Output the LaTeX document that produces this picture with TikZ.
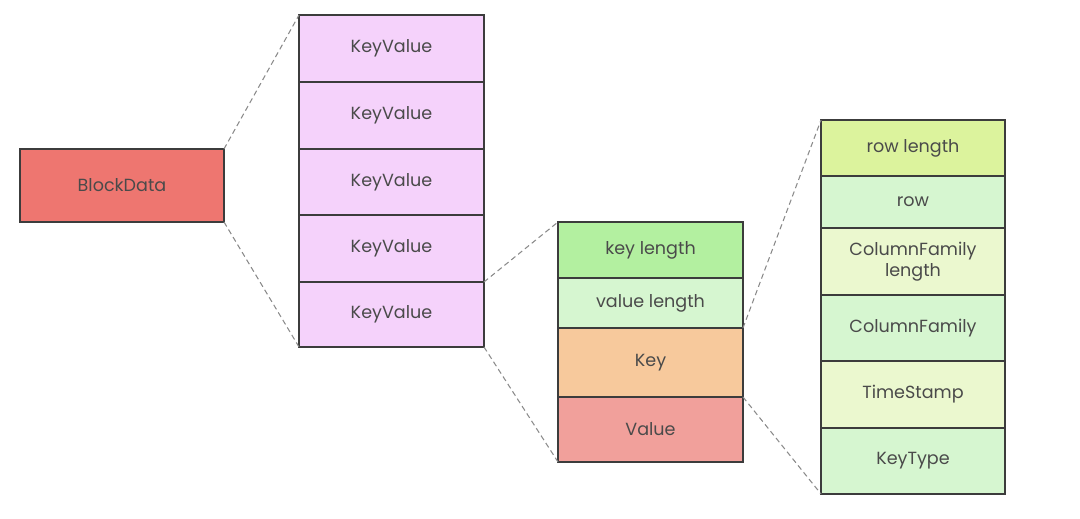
\documentclass[tikz,border=0pt]{standalone}
\usepackage{fontspec}
\setmainfont{Poppins}
\usepackage{tikz}
\usetikzlibrary{positioning}
\definecolor{edgegray}{HTML}{3C3C3C}
\definecolor{textgray}{HTML}{4A4A4A}
\definecolor{dashgray}{HTML}{8A8A8A}
\definecolor{blockred}{HTML}{EE7670}
\definecolor{kvpink}{HTML}{F5D2FB}
\definecolor{keygreen}{HTML}{B3F0A0}
\definecolor{palegreen}{HTML}{D6F6D0}
\definecolor{keyorange}{HTML}{F7C99C}
\definecolor{valuered}{HTML}{F1A09B}
\definecolor{limegreen}{HTML}{DCF39D}
\definecolor{paleyellow}{HTML}{EBF8CF}
\tikzset{
  cell/.style={draw=edgegray, line width=1.1pt, align=center, inner sep=0pt, outer sep=0pt, text=textgray, font=\fontsize{10}{12}\selectfont},
  kvcell/.style={cell, fill=kvpink, minimum width=3.7cm},
  fieldcell/.style={cell, minimum width=3.7cm},
  partcell/.style={cell, minimum width=3.68cm},
  zoomline/.style={draw=dashgray, line width=0.6pt, dash pattern=on 3pt off 2pt}
}
\begin{document}
\begin{tikzpicture}[x=0.02cm, y=-0.02cm]
  \useasboundingbox (0,0) rectangle (1080,519);
  \node[cell, fill=blockred, minimum width=4.08cm, minimum height=1.46cm] (block) at (122,185.5) {BlockData};

  % key values
  \node[kvcell, minimum height=1.34cm] (kv1) at (391.5,48.5) {KeyValue};
  \node[kvcell, minimum height=1.34cm] (kv2) at (391.5,115.5) {KeyValue};
  \node[kvcell, minimum height=1.32cm] (kv3) at (391.5,182) {KeyValue};
  \node[kvcell, minimum height=1.34cm] (kv4) at (391.5,248.5) {KeyValue};
  \node[kvcell, minimum height=1.30cm] (kv5) at (391.5,314.5) {KeyValue};

  % fields of one key value
  \node[fieldcell, fill=keygreen, minimum height=1.12cm] (keylen) at (650.5,250) {key length};
  \node[fieldcell, fill=palegreen, minimum height=1.0cm] (vallen) at (650.5,303) {value length};
  \node[fieldcell, fill=keyorange, minimum height=1.38cm] (key) at (650.5,362.5) {Key};
  \node[fieldcell, fill=valuered, minimum height=1.3cm] (value) at (650.5,429.5) {Value};

  % parts of the key
  \node[partcell, fill=limegreen, minimum height=1.12cm] (rowlen) at (913,148) {row length};
  \node[partcell, fill=palegreen, minimum height=1.04cm] (row) at (913,202) {row};
  \node[partcell, fill=paleyellow, minimum height=1.34cm] (cflen) at (913,261.5) {ColumnFamily\\length};
  \node[partcell, fill=palegreen, minimum height=1.32cm] (cf) at (913,328) {ColumnFamily};
  \node[partcell, fill=paleyellow, minimum height=1.34cm] (stamp) at (913,394.5) {TimeStamp};
  \node[partcell, fill=palegreen, minimum height=1.32cm] (keytype) at (913,461) {KeyType};

  \draw[zoomline] (block.north east) -- (kv1.north west);
  \draw[zoomline] (block.south east) -- (kv5.south west);
  \draw[zoomline] (kv5.north east) -- (keylen.north west);
  \draw[zoomline] (kv5.south east) -- (value.south west);
  \draw[zoomline] (vallen.south east) -- (rowlen.north west);
  \draw[zoomline] (value.north east) -- (keytype.south west);
\end{tikzpicture}
\end{document}
